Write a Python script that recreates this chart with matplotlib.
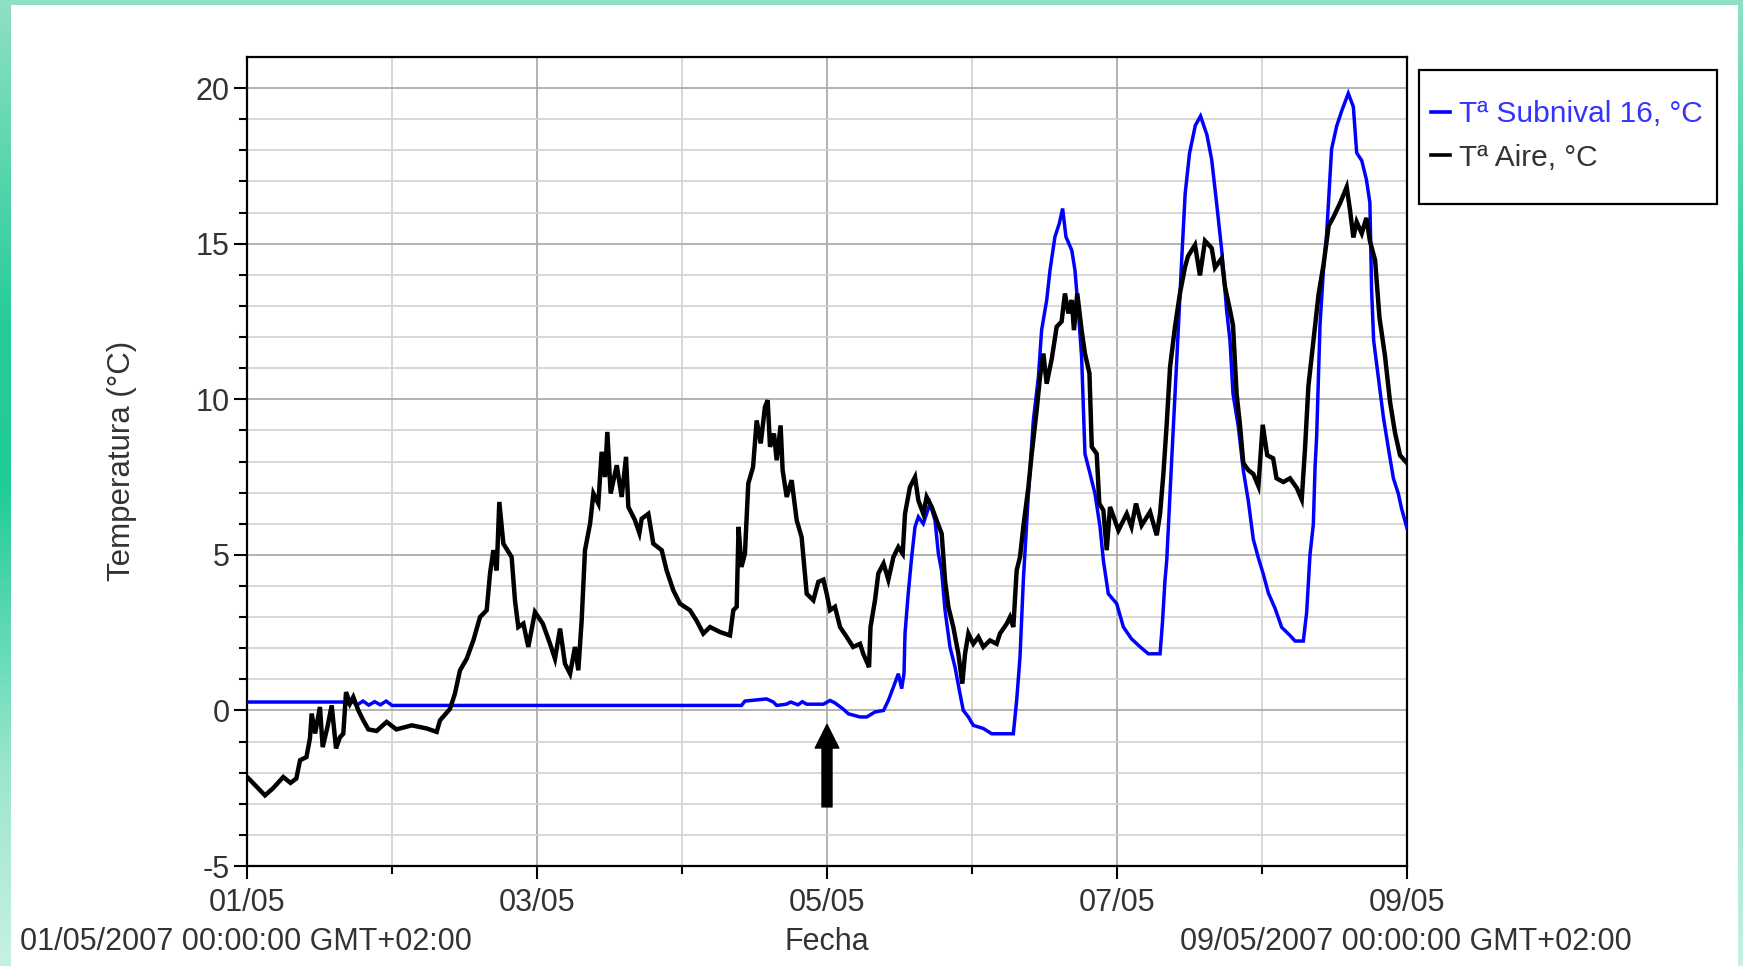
import numpy as np
import matplotlib
matplotlib.use("Agg")
import matplotlib.pyplot as plt
from matplotlib.patches import Rectangle
from matplotlib.lines import Line2D

# ---------------- data (days since 01/05/2007 00:00, °C) ----------------
air_day = [0.0, 0.014, 0.124, 0.18, 0.25, 0.30, 0.34, 0.366, 0.41, 0.434, 0.446, 0.47, 0.503, 0.522,
           0.555, 0.584, 0.614, 0.641, 0.664, 0.683, 0.71, 0.733, 0.768, 0.802, 0.837, 0.894, 0.963,
           1.03, 1.136, 1.24, 1.308, 1.331, 1.40, 1.434, 1.469, 1.515, 1.561, 1.607, 1.653, 1.676,
           1.699, 1.722, 1.740, 1.768, 1.825, 1.848, 1.871, 1.906, 1.94, 1.986, 2.04, 2.09, 2.124,
           2.159, 2.193, 2.228, 2.262, 2.285, 2.308, 2.331, 2.366, 2.389, 2.423, 2.446, 2.469, 2.485,
           2.508, 2.55, 2.584, 2.614, 2.63, 2.676, 2.706, 2.722, 2.768, 2.802, 2.86, 2.894, 2.94,
           2.986, 3.055, 3.10, 3.147, 3.193, 3.262, 3.331, 3.354, 3.377, 3.39, 3.41, 3.434, 3.457,
           3.49, 3.515, 3.543, 3.572, 3.591, 3.607, 3.634, 3.653, 3.68, 3.694, 3.722, 3.756, 3.791,
           3.825, 3.86, 3.906, 3.94, 3.975, 3.998, 4.021, 4.055, 4.09, 4.136, 4.18, 4.228, 4.25,
           4.27, 4.29, 4.30, 4.331, 4.354, 4.39, 4.423, 4.458, 4.492, 4.522, 4.538, 4.572, 4.607,
           4.63, 4.664, 4.687, 4.722, 4.756, 4.791, 4.814, 4.837, 4.871, 4.906, 4.933, 4.952, 4.975,
           5.009, 5.044, 5.078, 5.124, 5.17, 5.193, 5.24, 5.262, 5.285, 5.308, 5.331, 5.354, 5.389,
           5.412, 5.446, 5.469, 5.492, 5.515, 5.55, 5.584, 5.618, 5.641, 5.665, 5.688, 5.703, 5.726,
           5.756, 5.779, 5.81, 5.826, 5.86, 5.878, 5.906, 5.929, 5.952, 6.01, 6.067, 6.1, 6.131,
           6.17, 6.228, 6.274, 6.297, 6.32, 6.343, 6.366, 6.40, 6.434, 6.469, 6.49, 6.538, 6.572,
           6.607, 6.653, 6.676, 6.722, 6.745, 6.779, 6.80, 6.825, 6.848, 6.871, 6.906, 6.94, 6.975,
           7.005, 7.036, 7.077, 7.10, 7.147, 7.193, 7.24, 7.274, 7.297, 7.32, 7.343, 7.366, 7.39,
           7.425, 7.46, 7.49, 7.54, 7.584, 7.607, 7.63, 7.653, 7.688, 7.72, 7.744, 7.78, 7.81,
           7.848, 7.883, 7.917, 7.952, 8.0]
air_temp = [-2.14, -2.2, -2.73, -2.5, -2.14, -2.33, -2.19, -1.6, -1.5, -0.9, -0.1, -0.74, 0.11, -1.18,
            -0.53, 0.16, -1.22, -0.86, -0.75, 0.59, 0.22, 0.43, 0.0, -0.32, -0.61, -0.66, -0.37,
            -0.61, -0.48, -0.58, -0.69, -0.32, 0.05, 0.54, 1.29, 1.66, 2.25, 3.0, 3.22, 4.4,
            5.15, 4.5, 6.7, 5.36, 4.93, 3.54, 2.68, 2.79, 2.04, 3.16, 2.79, 2.14, 1.66,
            2.63, 1.5, 1.18, 2.04, 1.29, 2.89, 5.15, 6.0, 6.97, 6.65, 8.31, 7.5, 8.95,
            6.97, 7.88, 6.86, 8.15, 6.54, 6.11, 5.7, 6.16, 6.32, 5.36, 5.15, 4.5, 3.86,
            3.43, 3.22, 2.89, 2.47, 2.68, 2.52, 2.41, 3.22, 3.33, 5.9, 4.61, 5.04, 7.29,
            7.82, 9.32, 8.58, 9.75, 9.97, 8.47, 8.9, 8.04, 9.16, 7.72, 6.86, 7.4, 6.11,
            5.57, 3.75, 3.54, 4.13, 4.2, 3.75, 3.22, 3.33, 2.68, 2.36, 2.04, 2.14, 1.82,
            1.61, 1.39, 2.68, 3.54, 4.4, 4.72, 4.2, 4.93, 5.25, 5.04, 6.32, 7.18, 7.5,
            6.75, 6.32, 6.86, 6.54, 6.11, 5.68, 4.18, 3.33, 2.68, 1.82, 0.86, 1.82, 2.47,
            2.14, 2.36, 2.04, 2.25, 2.14, 2.47, 2.79, 3.0, 2.68, 4.5, 4.93, 5.9, 7.18,
            8.25, 9.65, 10.72, 11.47, 10.5, 11.3, 12.33, 12.5, 13.4, 12.76, 13.19, 12.22, 13.4,
            12.22, 11.47, 10.83, 8.47, 8.25, 6.65, 6.43, 5.15, 6.54, 5.79, 6.32, 5.9, 6.65,
            5.95, 6.38, 5.63, 6.32, 7.61, 9.22, 11.04, 12.33, 13.4, 14.25, 14.6, 14.96, 13.98,
            15.09, 14.86, 14.23, 14.53, 13.61, 12.87, 12.38, 10.17, 9.18, 7.95, 7.72, 7.6, 7.21,
            9.18, 8.2, 8.1, 7.46, 7.34, 7.46, 7.15, 6.78, 8.44, 10.42, 11.4, 12.38, 13.37,
            14.35, 15.58, 15.83, 16.32, 16.82, 16.08, 15.2, 15.7, 15.33, 15.83, 15.09, 14.47, 12.63,
            11.4, 9.92, 8.93, 8.2, 7.95]

sub_day = [0.0, 0.66, 0.70, 0.72, 0.76, 0.80, 0.84, 0.88, 0.92, 0.96, 1.0, 3.41, 3.434, 3.583,
           3.63, 3.653, 3.72, 3.75, 3.80, 3.83, 3.86, 3.975, 4.021, 4.055, 4.11, 4.148, 4.228,
           4.274, 4.331, 4.39, 4.423, 4.458, 4.492, 4.515, 4.531, 4.538, 4.56, 4.584, 4.607, 4.63,
           4.664, 4.71, 4.745, 4.768, 4.79, 4.814, 4.848, 4.883, 4.917, 4.94, 4.975, 5.009, 5.078,
           5.136, 5.285, 5.308, 5.331, 5.354, 5.389, 5.423, 5.458, 5.48, 5.515, 5.538, 5.572, 5.602,
           5.625, 5.648, 5.688, 5.71, 5.733, 5.756, 5.779, 5.814, 5.848, 5.883, 5.906, 5.94, 5.998,
           6.044, 6.10, 6.16, 6.216, 6.297, 6.313, 6.331, 6.343, 6.377, 6.412, 6.446, 6.47, 6.50,
           6.54, 6.576, 6.62, 6.653, 6.687, 6.722, 6.756, 6.779, 6.80, 6.837, 6.871, 6.906, 6.94,
           6.975, 7.009, 7.044, 7.09, 7.136, 7.193, 7.228, 7.285, 7.308, 7.331, 7.354, 7.366, 7.377,
           7.40, 7.423, 7.446, 7.48, 7.515, 7.55, 7.595, 7.63, 7.653, 7.688, 7.72, 7.744, 7.756,
           7.77, 7.81, 7.837, 7.871, 7.906, 7.94, 7.963, 8.0]
sub_temp = [0.27, 0.27, 0.2, 0.3, 0.18, 0.3, 0.17, 0.28, 0.18, 0.3, 0.16, 0.16, 0.30, 0.37,
            0.27, 0.16, 0.2, 0.27, 0.18, 0.28, 0.2, 0.2, 0.32, 0.24, 0.05, -0.11, -0.21,
            -0.21, -0.05, 0.0, 0.32, 0.75, 1.18, 0.7, 1.18, 2.47, 3.75, 4.93, 5.9, 6.22,
            6.0, 6.65, 6.11, 5.04, 4.5, 3.22, 2.04, 1.39, 0.54, 0.0, -0.21, -0.48, -0.58,
            -0.75, -0.75, 0.32, 1.71, 4.18, 6.97, 9.32, 10.72, 12.22, 13.18, 14.15, 15.22, 15.65,
            16.13, 15.22, 14.79, 14.15, 12.86, 11.36, 8.25, 7.61, 6.97, 5.9, 4.82, 3.75, 3.43,
            2.68, 2.3, 2.04, 1.82, 1.82, 2.79, 4.18, 4.82, 8.04, 11.25, 14.47, 16.6, 17.9,
            18.8, 19.1, 18.5, 17.7, 16.3, 14.8, 12.86, 11.9, 10.18, 9.11, 7.72, 6.72, 5.5,
            4.9, 4.38, 3.77, 3.28, 2.67, 2.41, 2.23, 2.23, 3.15, 5.0, 5.98, 7.83, 8.81,
            12.38, 14.1, 15.33, 18.04, 18.78, 19.27, 19.83, 19.4, 17.92, 17.67, 17.06, 16.32, 13.49,
            11.89, 10.41, 9.43, 8.44, 7.46, 6.97, 6.48, 5.86]

x_tick_pos = [0, 2, 4, 6, 8]
x_tick_labels = ["01/05", "03/05", "05/05", "07/05", "09/05"]
y_tick_pos = [-5, 0, 5, 10, 15, 20]
series_labels = ["Tª Subnival 16, °C", "Tª Aire, °C"]
start_label = "01/05/2007 00:00:00 GMT+02:00"
end_label = "09/05/2007 00:00:00 GMT+02:00"
x_title = "Fecha"
y_title = "Temperatura (°C)"
arrow_day, arrow_from, arrow_to = 4.0, -3.1, -0.45

# ---------------- figure ----------------
W, H = 1743, 966
plt.rcParams["font.family"] = ["Liberation Sans", "DejaVu Sans"]
plt.rcParams["axes.unicode_minus"] = False
fig = plt.figure(figsize=(W / 100, H / 100), dpi=100)
fig.patch.set_facecolor("white")

# teal border (left, top, right)
bg = fig.add_axes([0, 0, 1, 1], zorder=-10)
bg.axis("off")
stops = np.array([[0x8f, 0xe0, 0xc3], [0x27, 0xcc, 0x9a], [0x1f, 0xcb, 0x97], [0x9c, 0xe6, 0xcf], [0xc8, 0xf0, 0xe2]]) / 255
pos = np.array([0.0, 0.33, 0.5, 0.8, 1.0])
yy = np.linspace(0, 1, 300)
grad = np.stack([np.interp(yy, pos, stops[:, k]) for k in range(3)], axis=1)[:, None, :]
bg.imshow(grad, extent=[0, 11, H, 0], aspect="auto", interpolation="bilinear")
bg.imshow(grad, extent=[W - 5, W, H, 0], aspect="auto", interpolation="bilinear")
bg.add_patch(Rectangle((0, 0), W, 5, color="#8fe0c3", lw=0))
bg.set_xlim(0, W)
bg.set_ylim(H, 0)

ax = fig.add_axes([247 / W, 1 - 866 / H, (1407 - 247) / W, (866 - 57) / H])
ax.set_xlim(0, 8)
ax.set_ylim(-5, 21.0)

ax.plot(sub_day, sub_temp, color="#0000ff", lw=2.5, solid_joinstyle="miter", zorder=3, label=series_labels[0])
ax.plot(air_day, air_temp, color="#000000", lw=3.2, solid_joinstyle="miter", zorder=4, label=series_labels[1])

# ticks & grid
ax.set_xticks(x_tick_pos)
ax.set_xticklabels(x_tick_labels)
ax.set_xticks(np.arange(0, 9, 1), minor=True)
ax.set_yticks(y_tick_pos)
ax.set_yticks(np.arange(-5, 21, 1), minor=True)
ax.grid(which="minor", color="#d4d4d4", lw=1.3, zorder=0)
ax.grid(which="major", color="#acacac", lw=1.3, zorder=0)
ax.set_axisbelow(True)
ax.tick_params(which="major", direction="out", length=9.5, width=1.5, color="black",
               labelsize=22, labelcolor="#333333")
ax.tick_params(which="minor", direction="out", length=5.5, width=1.5, color="black")
ax.tick_params(axis="x", which="major", pad=6)
ax.tick_params(axis="y", which="major", pad=3)
for s in ax.spines.values():
    s.set_linewidth(1.6)
    s.set_color("black")

# arrow marker at 05/05
ax.annotate("", xy=(arrow_day, arrow_to), xytext=(arrow_day, arrow_from),
            arrowprops=dict(arrowstyle="simple,head_length=0.85,head_width=0.85,tail_width=0.36",
                            mutation_scale=20, color="black", shrinkA=0, shrinkB=0), zorder=5)

# legend
fig.patches.append(Rectangle((1419 / W, 1 - 204 / H), (1717 - 1419) / W, (204 - 70) / H,
                             transform=fig.transFigure, fill=False, ec="black", lw=1.6))
handles = [Line2D([], [], color="#0000ff", lw=2.6), Line2D([], [], color="black", lw=2.6)]
leg = fig.legend(handles, series_labels, loc="upper left",
                 bbox_to_anchor=(1431 / W, 1 - 100 / H), frameon=False, fontsize=21.5,
                 handlelength=0.65, handletextpad=0.3, labelspacing=0.52, borderpad=0, borderaxespad=0)
leg.get_texts()[0].set_color("#3333ff")
leg.get_texts()[1].set_color("#333333")

# titles and range labels
fig.text(122 / W, 1 - 461 / H, y_title, rotation=90, ha="center", va="center", fontsize=22.5, color="#333333")
fig.text(827 / W, 1 - 942 / H, x_title, ha="center", va="center", fontsize=22, color="#333333")
fig.text(20 / W, 1 - 942 / H, start_label, ha="left", va="center", fontsize=22, color="#333333")
fig.text(1632 / W, 1 - 942 / H, end_label, ha="right", va="center", fontsize=22, color="#333333")

fig.savefig("out.png", dpi=100)
